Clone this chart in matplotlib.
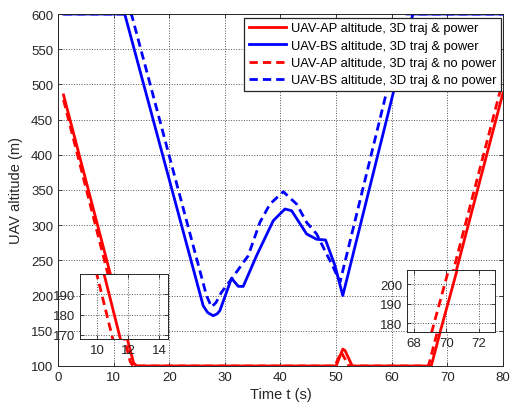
import matplotlib
matplotlib.use("Agg")
import matplotlib.pyplot as plt

plt.rcParams['font.family'] = ['Liberation Sans', 'DejaVu Sans']

# UAV-AP altitude, 3D traj & power
t_ap_pw = [1, 10.43, 13.6, 14.2, 50.0, 51.2, 51.6, 52.9, 67.1, 80]
h_ap_pw = [485, 200, 104, 100, 100, 124, 122, 100, 100, 488]

# UAV-BS altitude, 3D traj & power
t_bs_pw = [1, 12.0, 26.1, 26.9, 27.9, 28.6, 29.1, 31.2, 32.4, 33.3, 35.7, 38.7,
           40.8, 42.0, 44.7, 46.5, 48.1, 49.8, 51.2, 63.8, 80]
h_bs_pw = [600, 600, 185.7, 176, 171.4, 174, 178.6, 224.6, 213.2, 213, 256.7, 306.4,
           323, 320.6, 287.5, 280, 279, 242.5, 200, 600, 600]

# UAV-AP altitude, 3D traj & no power
t_ap_np = [1, 9.96, 13.0, 13.5, 49.8, 50.9, 52.3, 66.6, 79.7]
h_ap_np = [478, 200, 106, 100, 100, 120, 100, 100, 497]

# UAV-BS altitude, 3D traj & no power
t_bs_np = [1, 13.2, 26.7, 27.6, 28.4, 29.4, 31.2, 34.2, 36.3, 38.1, 40.5, 42.9,
           44.7, 46.5, 48.3, 49.5, 50.7, 62.5, 80]
h_bs_np = [600, 600, 200, 184, 190, 204.7, 223.6, 256.7, 304, 330, 347.6, 330,
           304, 287.5, 259, 240, 219, 600, 600]

labels = ['UAV-AP altitude, 3D traj & power',
          'UAV-BS altitude, 3D traj & power',
          'UAV-AP altitude, 3D traj & no power',
          'UAV-BS altitude, 3D traj & no power']

dash = (3, 1.8)
fg = '#262626'


def draw(ax, lw=2):
    ax.plot(t_ap_pw, h_ap_pw, color='red', lw=lw, label=labels[0])
    ax.plot(t_bs_pw, h_bs_pw, color='blue', lw=lw, label=labels[1])
    ax.plot(t_ap_np, h_ap_np, color='red', lw=lw, ls=(0, dash), label=labels[2])
    ax.plot(t_bs_np, h_bs_np, color='blue', lw=lw, ls=(0, dash), label=labels[3])


def style(ax, fs=9.5):
    ax.grid(True, ls=':', color='#555555', lw=0.7)
    ax.tick_params(direction='in', top=True, right=True, labelsize=fs,
                   colors=fg, length=3, width=0.6)
    for s in ax.spines.values():
        s.set_color(fg)
        s.set_linewidth(0.7)


fig = plt.figure(figsize=(5.13, 4.10), dpi=100)
ax = fig.add_axes([0.113, 0.1049, 0.8675, 0.8585])
draw(ax)
ax.set_xlim(0, 80)
ax.set_ylim(100, 600)
ax.set_xticks(range(0, 81, 10))
ax.set_yticks(range(100, 601, 50))
style(ax)
ax.set_xlabel('Time t (s)', fontsize=10.5, color=fg, labelpad=3)
ax.set_ylabel('UAV altitude (m)', fontsize=10.5, color=fg, labelpad=6)
leg = ax.legend(loc='upper right', fontsize=9.3, handlelength=2.9,
                bbox_to_anchor=(0.995, 0.99),
                borderaxespad=0.0, labelspacing=0.42, handletextpad=0.35,
                fancybox=False, framealpha=1, borderpad=0.35)
leg.get_frame().set_edgecolor(fg)
leg.get_frame().set_linewidth(0.9)

ins1 = fig.add_axes([0.156, 0.1707, 0.1715, 0.1585])
draw(ins1)
ins1.set_xlim(8.88, 14.56)
ins1.set_ylim(168, 200)
ins1.set_xticks([10, 12, 14])
ins1.set_yticks([170, 180, 190])
style(ins1)

ins2 = fig.add_axes([0.7934, 0.1878, 0.1715, 0.152])
draw(ins2)
ins2.set_xlim(67.57, 73.0)
ins2.set_ylim(175.6, 207.3)
ins2.set_xticks([68, 70, 72])
ins2.set_yticks([180, 190, 200])
style(ins2)

fig.savefig('out.png', dpi=100)
